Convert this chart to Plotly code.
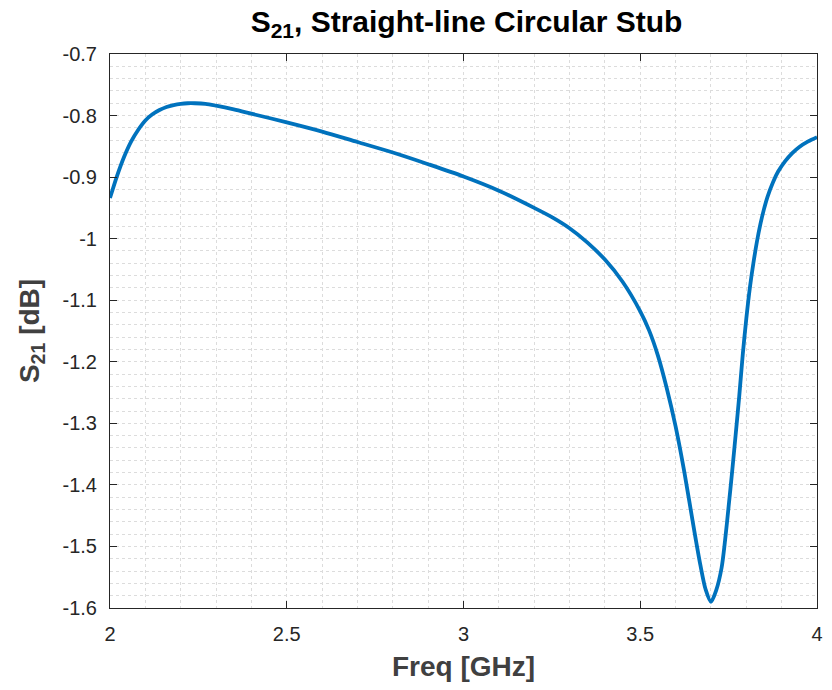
import plotly.graph_objects as go

freq = [2.00, 2.02, 2.04, 2.06, 2.08, 2.10, 2.12, 2.14, 2.16, 2.18, 2.20, 2.22,
        2.24, 2.27, 2.30, 2.35, 2.40, 2.50, 2.60, 2.70, 2.80, 2.90, 3.00, 3.10,
        3.20, 3.25, 3.30, 3.35, 3.40, 3.45, 3.50, 3.525, 3.55, 3.575, 3.60,
        3.625, 3.65, 3.67, 3.685, 3.70, 3.715, 3.73, 3.74, 3.75, 3.76, 3.77,
        3.78, 3.79, 3.80, 3.81, 3.82, 3.83, 3.84, 3.85, 3.86, 3.875, 3.89,
        3.91, 3.93, 3.95, 3.975, 4.00]
s21 = [-0.934, -0.898, -0.867, -0.842, -0.823, -0.808, -0.798, -0.791, -0.786,
       -0.783, -0.781, -0.780, -0.780, -0.781, -0.784, -0.790, -0.797, -0.811,
       -0.826, -0.843, -0.860, -0.879, -0.899, -0.922, -0.950, -0.965, -0.983,
       -1.006, -1.034, -1.070, -1.118, -1.149, -1.190, -1.243, -1.305, -1.380,
       -1.465, -1.530, -1.570, -1.590, -1.571, -1.535, -1.490, -1.435, -1.378,
       -1.318, -1.256, -1.188, -1.130, -1.080, -1.040, -1.005, -0.976, -0.952,
       -0.932, -0.909, -0.891, -0.874, -0.861, -0.851, -0.842, -0.835]

x_ticks = [2, 2.5, 3, 3.5, 4]
x_labels = ["2", "2.5", "3", "3.5", "4"]
y_ticks = [-0.7, -0.8, -0.9, -1.0, -1.1, -1.2, -1.3, -1.4, -1.5, -1.6]
y_labels = ["-0.7", "-0.8", "-0.9", "-1", "-1.1", "-1.2", "-1.3", "-1.4", "-1.5", "-1.6"]

FONT = "Liberation Sans, Arial, Helvetica, sans-serif"
AX = "#262626"
GRID = "#dcdcdc"

fig = go.Figure()
fig.add_trace(go.Scatter(
    x=freq, y=s21, mode="lines",
    line=dict(color="#0072BD", width=3.8, shape="spline", smoothing=0.8),
    showlegend=False, hoverinfo="skip"))

axis_common = dict(
    showline=True, linecolor=AX, linewidth=1, mirror="ticks",
    ticks="inside", ticklen=7, tickcolor=AX, tickwidth=1,
    showgrid=True, gridcolor=GRID, griddash="dot", gridwidth=1,
    zeroline=False, tickfont=dict(family=FONT, size=20, color=AX),
    ticklabelstandoff=8,
)

fig.update_layout(
    width=832, height=690,
    margin=dict(l=110, r=9, t=54, b=82),
    paper_bgcolor="white", plot_bgcolor="white",
    font=dict(family=FONT),
    title=dict(text="<b>S<sub>21</sub>, Straight-line Circular Stub</b>",
               x=(110 + 823) / 2 / 832, xanchor="center",
               y=1 - 21 / 690, yanchor="middle",
               font=dict(family=FONT, size=30, color="black")),
    xaxis=dict(range=[2, 4], tickvals=x_ticks, ticktext=x_labels,
               minor=dict(dtick=0.1, tick0=2, showgrid=True, gridcolor=GRID,
                          griddash="dot", ticks=""),
               title=dict(text="<b>Freq [GHz]</b>", standoff=12,
                          font=dict(family=FONT, size=28, color="#404040")),
               **axis_common),
    yaxis=dict(range=[-1.6, -0.7], tickvals=y_ticks, ticktext=y_labels,
               minor=dict(dtick=0.02, tick0=-1.6, showgrid=True, gridcolor=GRID,
                          griddash="dot", ticks=""),
               title=dict(text="<b>S<sub>21</sub> [dB]</b>", standoff=14,
                          font=dict(family=FONT, size=28, color="#404040")),
               **axis_common),
)

fig.write_html("out.html")
